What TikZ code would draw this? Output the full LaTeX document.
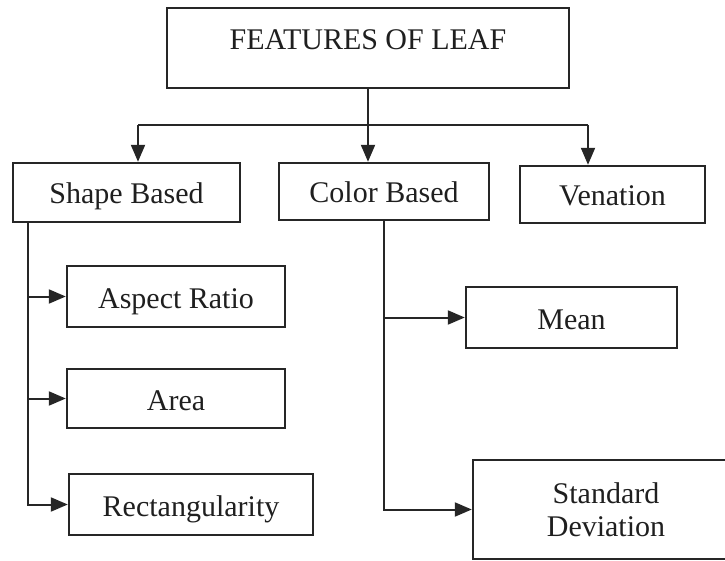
\documentclass[tikz,border=0pt]{standalone}
\usepackage{fontspec}
\setmainfont{Liberation Serif}
\usetikzlibrary{arrows.meta}
\begin{document}
\begin{tikzpicture}[x=1pt,y=-1pt,
  box/.style={draw=black!85, line width=2.4pt, rectangle, inner sep=0pt,
    font=\fontsize{30}{33}\selectfont, text=black!88, text height=23pt, text depth=0pt},
  twoline/.style={draw=black!85, line width=2.4pt, rectangle, inner sep=0pt,
    font=\fontsize{30}{33}\selectfont, text=black!88, align=center},
  link/.style={draw=black!85, line width=2pt},
  arr/.style={link, -{Triangle[length=17pt,width=14pt]}}]
\useasboundingbox (0,0) rectangle (725,561);
\clip (0,0) rectangle (725,561);

% root
\node[box, minimum width=402pt, minimum height=80pt, text depth=19pt]
  (top) at (368,48) {FEATURES OF LEAF};

% first level
\node[box, minimum width=227pt, minimum height=59pt] (shape) at (126.5,192.5) {Shape Based};
\node[box, minimum width=210pt, minimum height=57pt] (color) at (384,191.5) {Color Based};
\node[box, minimum width=185pt, minimum height=57pt] (ven) at (612.5,194.5) {Venation};

% shape features
\node[box, minimum width=218pt, minimum height=61pt] (aspect) at (176,296.5) {Aspect Ratio};
\node[box, minimum width=218pt, minimum height=59pt] (area) at (176,398.5) {Area};
\node[box, minimum width=244pt, minimum height=61pt] (rect) at (191,504.5) {Rectangularity};

% colour features
\node[box, minimum width=211pt, minimum height=61pt] (mean) at (571.5,317.5) {Mean};
\node[twoline, minimum width=266pt, minimum height=99pt] (sd) at (606,509.5) {Standard\\Deviation};

% root branching bar
\coordinate (bl) at (138,125);
\coordinate (br) at (588,125);
\draw[link] (top.south) -- (top.south |- bl);
\draw[link] (bl) -- (br);
\draw[arr] (bl) -- (bl |- shape.north);
\draw[arr] (top.south |- bl) -- (top.south |- color.north);
\draw[arr] (br) -- (br |- ven.north);

% shape spine
\coordinate (sp) at ([xshift=16pt]shape.south west);
\draw[arr] (sp) |- (rect.west);
\draw[arr] (sp |- aspect.west) -- (aspect.west);
\draw[arr] (sp |- area.west) -- (area.west);

% colour spine
\coordinate (cp) at (color.south);
\draw[arr] (cp) |- (sd.west);
\draw[arr] (cp |- mean.west) -- (mean.west);
\end{tikzpicture}
\end{document}
